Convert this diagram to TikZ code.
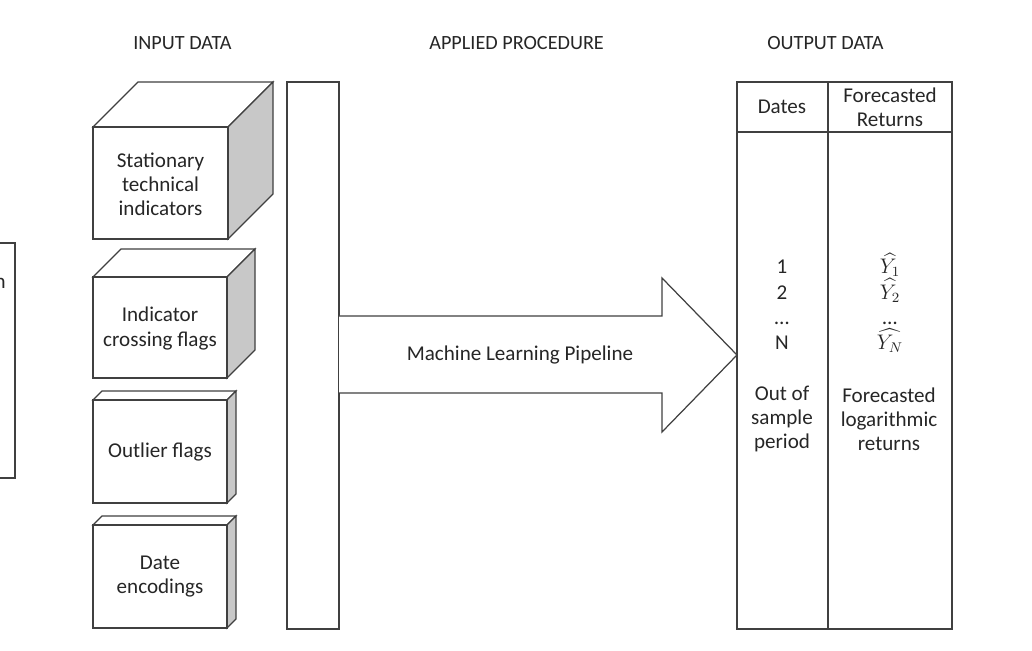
\documentclass[tikz,border=0pt]{standalone}
\usepackage{amsmath,amssymb}
\usepackage{fontspec}
\setmainfont{Carlito}
\usetikzlibrary{calc}
\definecolor{sidegray}{RGB}{200,200,200}
\definecolor{inkgray}{RGB}{64,64,64}

\begin{document}
\begin{tikzpicture}[x=0.02cm, y=-0.02cm,
        boxline/.style={draw=inkgray, line width=0.7pt, line join=miter},
        label/.style={text=black!85, font=\fontsize{12}{13.7}\selectfont, align=center, inner sep=0pt},
        heading/.style={text=black!85, font=\fontsize{11.5}{13.7}\selectfont, anchor=west, inner sep=0pt}]
        \useasboundingbox (0,0) rectangle (1032,651);
        % headings
        \node[heading] (hin) at (133,43) {INPUT DATA};
        \node[heading] (hproc) at (429,43) {APPLIED PROCEDURE};
        \node[heading] (hout) at (767,43) {OUTPUT DATA};
        % box cut off at the left border
        \draw[boxline] (-10,243) rectangle (15,478);
        \node[label, anchor=east] (cut) at (6,283) {n};
        % drawing input cubes
        \draw[boxline, fill=white] (93,127) -- (138,82) -- (273,82) -- (228,127) -- cycle;
        \draw[boxline, fill=sidegray] (228,127) -- (273,82) -- (273,194) -- (228,239) -- cycle;
        \draw[boxline, fill=white] (93,127) rectangle (228,239);
        \node[label] (stat) at (160.5,184) {Stationary\\technical\\indicators};
        \draw[boxline, fill=white] (93,277) -- (121,249) -- (255,249) -- (227,277) -- cycle;
        \draw[boxline, fill=sidegray] (227,277) -- (255,249) -- (255,350) -- (227,378) -- cycle;
        \draw[boxline, fill=white] (93,277) rectangle (227,378);
        \node[label] (cross) at (160,328.5) {Indicator\\crossing flags};
        \draw[boxline, fill=white] (93,400) -- (102,391) -- (236,391) -- (227,400) -- cycle;
        \draw[boxline, fill=sidegray] (227,400) -- (236,391) -- (236,494) -- (227,503) -- cycle;
        \draw[boxline, fill=white] (93,400) rectangle (227,503);
        \node[label] (outl) at (160,452) {Outlier flags};
        \draw[boxline, fill=white] (93,525) -- (102,516) -- (236,516) -- (227,525) -- cycle;
        \draw[boxline, fill=sidegray] (227,525) -- (236,516) -- (236,619) -- (227,628) -- cycle;
        \draw[boxline, fill=white] (93,525) rectangle (227,628);
        \node[label] (denc) at (160,577) {Date\\encodings};
        % procedure column
        \draw[boxline] (287,82) rectangle (339,629);
        \coordinate (procR) at (339,355);
        % output table
        \draw[boxline] (737,82) rectangle (952,629);
        \draw[boxline] (737,132) -- (952,132);
        \draw[boxline] (828,82) -- (828,629);
        \coordinate (tabL) at (737,355);
        % block arrow
        \draw[boxline, fill=white] ($(procR)+(0,-39)$) -- (662,316) -- (662,278) -- (tabL)
            -- (662,432) -- (662,393) -- ($(procR)+(0,38)$);
        \node[label] (pipe) at (520,355) {Machine Learning Pipeline};
        % table texts
        \node[label] (dates) at (782,107) {Dates};
        \node[label] (fret) at (890,107) {Forecasted\\Returns};
        \node[label, font=\fontsize{12}{14.4}\selectfont] (idx) at (782,305) {1\\2\\…\\N};
        \node[label, font=\fontsize{12}{14.4}\selectfont] (yhat) at (890,303)
            {$\widehat{Y_1}$\\$\widehat{Y_2}$\\…\\$\widehat{Y_N}$};
        \node[label] (oos) at (782,419) {Out of\\sample\\period};
        \node[label] (flr) at (889,419) {Forecasted\\logarithmic\\returns};
    \end{tikzpicture}
\end{document}
